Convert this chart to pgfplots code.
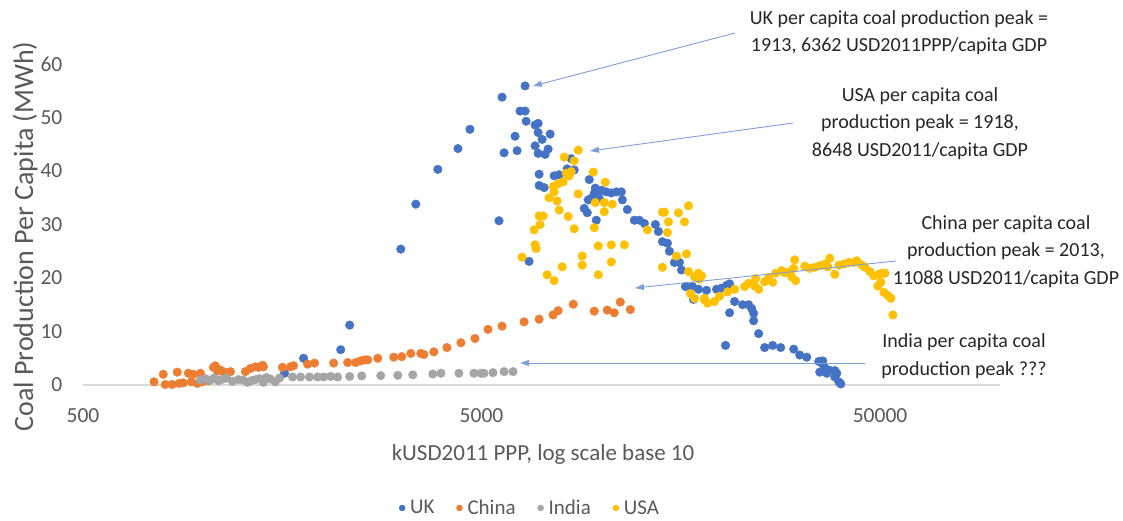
\documentclass[border=0pt]{standalone}
\usepackage{fontspec}
\setmainfont{Carlito}
\usepackage{pgfplots}
\pgfplotsset{compat=1.18}
\usetikzlibrary{arrows.meta}
\definecolor{ukc}{HTML}{4472C4}
\definecolor{chc}{HTML}{ED7D31}
\definecolor{inc}{HTML}{A5A5A5}
\definecolor{usc}{HTML}{FFC000}
\definecolor{txt}{HTML}{595959}
\definecolor{arr}{HTML}{7F9FDA}
\definecolor{lineg}{HTML}{D9D9D9}
\begin{document}
\begin{tikzpicture}[x=1pt,y=1pt]
\useasboundingbox (0,0) rectangle (1123,520);
\begin{axis}[
  at={(83pt,135pt)}, anchor=south west,
  scale only axis, width=917pt, height=321pt,
  xmode=log, xmin=500, xmax=100000, ymin=0, ymax=60,
  axis lines=left, axis line style={-},
  y axis line style={draw=none},
  x axis line style={draw=lineg, line width=1.4pt},
  tick style={draw=none},
  xtick={500,5000,50000}, xticklabels={500,5000,50000},
  ytick={0,10,20,30,40,50,60},
  /pgf/number format/assume math mode=true,
  ticklabel style={font=\fontsize{21.5}{24}\selectfont, text=txt},
  yticklabel style={xshift=-15pt},
  xticklabel style={yshift=-18pt},
  xlabel={kUSD2011 PPP, log scale base 10},
  ylabel={Coal Production Per Capita (MWh)},
  xlabel style={font=\fontsize{23}{26}\selectfont, text=txt, at={(axis description cs:0.5016,-0.218)}, anchor=center},
  ylabel style={font=\fontsize{28}{30}\selectfont, text=txt, at={(axis description cs:-0.063,0.4626)}, anchor=center},
  legend style={at={(axis description cs:0.4875,-0.383)}, anchor=center, draw=none, fill=none,
    legend columns=-1, font=\fontsize{21}{24}\selectfont, text=txt,
    /tikz/every odd column/.append style={column sep=3pt},
    /tikz/every even column/.append style={column sep=20pt}},
  legend image code/.code={\draw[#1, mark size=3pt] plot coordinates {(0pt,0pt)};},
  clip=false,
]
\addplot[only marks, mark=*, mark size=4.3pt, color=ukc] coordinates {
(1602,2.2) (1788,5.0) (2216,6.6) (2334,11.2) (3136,25.4) (3420,33.8) (3885,40.3) (4363,44.2) (4676,47.8) (5531,30.7) (5629,53.8) (5695,43.4) (6069,46.5) (6140,43.8) (6247,51.2) (6431,51.2) (6431,55.9) (6469,49.3) (6582,23.1) (6814,48.6) (6934,48.9) (6934,47.2) (7097,45.9) (7433,46.9) (6814,44.7) (6934,43.3) (7221,43.1) (7347,44.1) (6974,39.4) (7607,39.1) (7831,39.3) (6974,37.3) (7179,36.9) (8394,42.3) (8202,40.4) (8541,40.2) (9317,38.4) (9646,36.8) (9590,35.8) (9425,34.9) (9262,34.6) (9051,33.0) (9209,32.2) (9702,30.8) (9872,34.9) (9987,36.4) (10281,36.1) (10582,35.9) (10893,36.1) (11214,36.1) (11279,34.6) (11610,32.8) (12090,30.8) (12445,30.8) (12811,30.2) (13654,30.0) (13893,28.7) (14219,26.8) (14636,26.5) (14807,25.0) (15241,22.9) (15689,22.9) (15873,21.5) (16244,18.4) (16916,18.4) (17014,16.0) (17514,17.9) (18346,17.7) (19439,17.9) (20011,18.1) (20599,18.6) (20960,18.9) (21574,15.6) (20960,13.5) (22598,15.0) (23396,15.0) (23807,14.3) (24084,13.4) (24084,12.0) (24791,9.6) (20479,7.4) (25668,7.0) (26885,7.4) (28158,7.0) (30361,6.7) (31434,5.6) (32737,5.2) (35090,4.4) (35914,4.5) (36121,3.5) (35295,2.4) (36757,2.2) (37181,2.8) (38496,2.7) (38946,2.2) (38496,1.5) (39399,0.6) (39856,0.2)
};
\addlegendentry{UK}
\addplot[only marks, mark=*, mark size=4.3pt, color=chc] coordinates {
(754,0.6) (795,2.0) (804,0.1) (837,0.1) (862,2.4) (872,0.3) (892,0.4) (919,2.2) (935,0.6) (946,2.0) (968,0.3) (985,2.2) (996,0.6) (1031,0.8) (1062,3.3) (1074,3.6) (1087,2.6) (1106,2.8) (1125,2.5) (1172,2.5) (1278,2.5) (1316,3.1) (1354,3.4) (1378,3.3) (1410,3.7) (1418,3.4) (1583,3.3) (1658,3.4) (1687,3.6) (1830,3.9) (1905,4.1) (2127,4.1) (2308,4.2) (2417,4.2) (2488,4.5) (2546,4.7) (2591,4.7) (2745,5.0) (3011,5.2) (3154,5.3) (3323,5.9) (3521,5.9) (3583,5.7) (3796,6.2) (4094,7.0) (4439,7.9) (4814,8.7) (5190,10.4) (5629,11.0) (6394,11.8) (6974,12.3) (7563,13.1) (7786,13.9) (8492,15.1) (9590,13.8) (10340,14.0) (10767,13.5) (11147,15.5) (11813,14.1)
};
\addlegendentry{China}
\addplot[only marks, mark=*, mark size=4.3pt, color=inc] coordinates {
(985,0.9) (1014,1.2) (1043,0.9) (1068,1.3) (1093,0.8) (1119,1.1) (1145,1.3) (1185,0.7) (1227,1.0) (1263,0.9) (1293,0.5) (1323,0.8) (1354,1.0) (1386,1.2) (1418,0.5) (1443,1.4) (1477,1.1) (1520,0.6) (1556,1.3) (1678,1.5) (1757,1.5) (1851,1.5) (1939,1.5) (2008,1.5) (2091,1.6) (2177,1.5) (2334,1.6) (2502,1.7) (2793,1.75) (3082,1.8) (3361,1.9) (3774,2.05) (3954,2.2) (4388,2.2) (4786,2.2) (4984,2.2) (5071,2.2) (5342,2.3) (5695,2.5) (5999,2.5)
};
\addlegendentry{India}
\addplot[only marks, mark=*, mark size=4.3pt, color=usc] coordinates {
(6320,23.9) (6775,29.0) (6814,26.2) (6854,25.5) (7014,30.0) (6974,31.6) (7138,31.6) (7305,20.6) (7607,19.5) (7968,22.1) (7391,35.0) (7607,36.1) (7741,34.4) (7831,32.7) (7563,37.1) (7786,37.6) (8014,38.0) (8061,42.6) (8155,39.6) (8297,39.1) (8249,31.5) (8541,29.2) (8741,43.9) (8541,41.9) (8394,39.9) (8741,35.7) (9535,39.8) (10221,37.9) (9646,34.1) (10162,34.1) (10643,33.8) (10162,32.4) (9590,29.4) (9815,26.0) (10582,26.2) (11410,26.2) (8947,24.1) (8947,22.4) (10582,23.0) (9815,20.6) (13035,29.0) (14219,32.3) (14384,32.3) (14721,30.5) (14636,28.5) (15599,32.2) (16151,30.5) (16529,33.5) (14219,22.0) (15419,24.1) (16340,24.5) (16529,21.2) (17113,20.2) (17616,19.8) (17514,20.9) (16721,17.1) (17113,16.2) (18134,16.2) (18451,15.3) (19214,15.6) (19779,16.6) (20717,17.4) (21574,17.9) (22861,18.4) (23396,19.0) (24223,18.5) (24364,19.9) (24791,17.9) (25668,19.3) (26269,20.1) (26885,19.2) (27356,20.9) (28324,21.4) (28820,21.0) (29667,21.2) (30361,21.8) (30536,23.4) (30012,20.2) (30714,19.5) (32359,22.2) (33310,21.8) (34285,22.0) (35295,22.3) (36332,22.6) (37400,23.7) (36967,22.1) (38496,20.7) (39399,22.4) (40556,22.6) (41747,22.9) (42974,22.9) (43727,23.2) (45014,22.4) (45802,22.0) (47148,21.2) (48252,20.4) (49670,20.7) (50541,20.9) (51425,20.9) (50245,19.2) (49380,18.5) (51127,17.3) (52325,16.7) (53240,16.2) (53862,13.1) (17822,20.4) (18134,15.9)
};
\addlegendentry{USA}
\end{axis}
\begin{scope}[every node/.style={font=\fontsize{20}{27.5}\selectfont, align=center, inner sep=0pt, text=black!85}]
\node at (899,487.5) {UK per capita coal production peak =\\1913, 6362 USD2011PPP/capita GDP};
\node at (920,396.5) {USA per capita coal\\production peak = 1918,\\8648 USD2011/capita GDP};
\node at (1006,268.5) {China per capita coal\\production peak = 2013,\\11088 USD2011/capita GDP};
\node at (964,164) {India per capita coal\\production peak ???};
\end{scope}
\begin{scope}[draw=arr, line width=0.9pt, -{Triangle[length=9pt,width=6pt]}]
\draw (735,487) -- (533,434);
\draw (793,397) -- (590,369);
\draw (896,259) -- (635,232);
\draw (865,157) -- (520,157);
\end{scope}
\end{tikzpicture}
\end{document}
